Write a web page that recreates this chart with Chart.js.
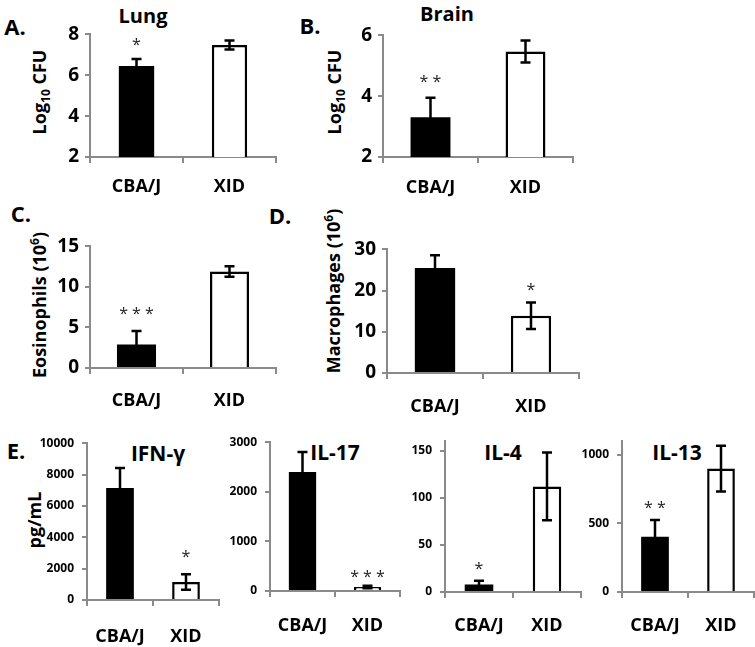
<!DOCTYPE html>
<html>
<head>
<meta charset="utf-8">
<script src="https://cdn.jsdelivr.net/npm/chart.js@4.4.1/dist/chart.umd.min.js"></script>
<style>
  body { margin: 0; background: #fff; width: 755px; height: 647px; position: relative; overflow: hidden;
         font-family: "Open Sans", sans-serif; }
  .box { position: absolute; }
  .lbl { position: absolute; white-space: nowrap; font-weight: bold; color: #000; line-height: 1;
         transform: translate(-50%, -50%); }
  .yt { position: absolute; white-space: nowrap; font-weight: bold; color: #000; line-height: 1;
        font-size: 18px; transform: translate(-50%, -50%) rotate(-90deg); }
  .yt sub, .yt sup { font-size: 12px; }
</style>
</head>
<body>

<div class="lbl" style="left:15px;top:26px;font-size:22px">A.</div>
<div class="lbl" style="left:143px;top:16px;font-size:20px">Lung</div>
<div class="lbl" style="left:310px;top:25px;font-size:22px">B.</div>
<div class="lbl" style="left:447px;top:14px;font-size:20px">Brain</div>
<div class="lbl" style="left:21px;top:213px;font-size:22px">C.</div>
<div class="lbl" style="left:280px;top:215px;font-size:22px">D.</div>
<div class="lbl" style="left:16px;top:450px;font-size:22px">E.</div>
<div class="lbl" style="left:158px;top:453px;font-size:21px">IFN-γ</div>
<div class="lbl" style="left:335px;top:452px;font-size:21px">IL-17</div>
<div class="lbl" style="left:503px;top:452px;font-size:21px">IL-4</div>
<div class="lbl" style="left:677px;top:452px;font-size:21px">IL-13</div>

<div class="yt" style="left:41px;top:92px">Log<sub>10</sub> CFU</div>
<div class="yt" style="left:336px;top:92px">Log<sub>10</sub> CFU</div>
<div class="yt" style="left:38px;top:305px">Eosinophils (10<sup>6</sup>)</div>
<div class="yt" style="left:332px;top:291px">Macrophages (10<sup>6</sup>)</div>
<div class="yt" style="left:34px;top:520px">pg/mL</div>

<div class="box" id="boxA"><canvas id="cA"></canvas></div>
<div class="box" id="boxB"><canvas id="cB"></canvas></div>
<div class="box" id="boxC"><canvas id="cC"></canvas></div>
<div class="box" id="boxD"><canvas id="cD"></canvas></div>
<div class="box" id="boxE1"><canvas id="cE1"></canvas></div>
<div class="box" id="boxE2"><canvas id="cE2"></canvas></div>
<div class="box" id="boxE3"><canvas id="cE3"></canvas></div>
<div class="box" id="boxE4"><canvas id="cE4"></canvas></div>

<script>
// groups
const categories = ["CBA/J", "XID"];

// means and SEM
const lungCFU = [6.45, 7.48];
const lungErr = [0.35, 0.22];
const lungSig = ["*", ""];

const brainCFU = [3.31, 5.47];
const brainErr = [0.64, 0.36];
const brainSig = ["**", ""];

const eosinophils = [2.9, 11.9];
const eosinophilsErr = [1.65, 0.65];
const eosinophilsSig = ["***", ""];

const macrophages = [25.5, 13.9];
const macrophagesErr = [3.1, 3.2];
const macrophagesSig = ["", "*"];

const ifng = [7150, 1150];
const ifngErr = [1270, 500];
const ifngSig = ["", "*"];

const il17 = [2400, 80];
const il17Err = [400, 25];
const il17Sig = ["", "***"];

const il4 = [8, 112];
const il4Err = [4, 36];
const il4Sig = ["*", ""];

const il13 = [403, 900];
const il13Err = [122, 166];
const il13Sig = ["**", ""];

// y axis ranges [min, max, step]
const lungAxis = [2, 8, 2];
const brainAxis = [2, 6, 2];
const eosAxis = [0, 15, 5];
const macAxis = [0, 30, 10];
const ifngAxis = [0, 10000, 2000];
const il17Axis = [0, 3000, 1000];
const il4Axis = [0, 160, 50];
const il13Axis = [0, 1100, 500];

const AXIS = "#8a8a8a";
const FONT = '"Open Sans", sans-serif';

const errorBars = {
  id: "errorBars",
  afterDatasetsDraw(chart, args, opts) {
    const ctx = chart.ctx;
    const ys = chart.scales.y;
    const meta = chart.getDatasetMeta(0);
    ctx.save();
    meta.data.forEach((bar, i) => {
      const v = opts.values[i], e = opts.errors[i];
      const top = ys.getPixelForValue(v + e);
      const bot = ys.getPixelForValue(v - e);
      ctx.strokeStyle = "#000";
      ctx.lineWidth = 2.5;
      ctx.beginPath();
      ctx.moveTo(bar.x, top); ctx.lineTo(bar.x, bot);
      ctx.moveTo(bar.x - 5, top); ctx.lineTo(bar.x + 5, top);
      ctx.moveTo(bar.x - 5, bot); ctx.lineTo(bar.x + 5, bot);
      ctx.stroke();
      if (opts.sig[i]) {
        ctx.fillStyle = "#222";
        ctx.font = "16px " + FONT;
        ctx.textAlign = "center";
        ctx.textBaseline = "middle";
        ctx.fillText(opts.sig[i].split("").join(" "), bar.x, top - opts.sigGap);
      }
    });
    ctx.restore();
  }
};

function panel(p) {
  const yW = 70, xH = 50, padTop = 14, padRight = 10;
  const box = document.getElementById("box" + p.id);
  box.style.left = (p.x0 - yW) + "px";
  box.style.top = (p.yTop - padTop) + "px";
  box.style.width = (p.x1 - p.x0 + yW + padRight) + "px";
  box.style.height = (p.yBottom - p.yTop + padTop + xH) + "px";
  const [min, max, step] = p.axis;
  return new Chart(document.getElementById("c" + p.id), {
    type: "bar",
    data: {
      labels: categories,
      datasets: [{
        data: p.values,
        backgroundColor: ["#000", "#fff"],
        borderColor: "#000",
        borderWidth: [0, 2.5],
        barPercentage: p.barFrac || 0.42,
        categoryPercentage: 1
      }]
    },
    options: {
      responsive: true,
      maintainAspectRatio: false,
      animation: false,
      layout: { padding: { top: padTop, right: padRight, left: 0, bottom: 0 } },
      plugins: {
        legend: { display: false },
        tooltip: { enabled: false },
        errorBars: { values: p.values, errors: p.errors, sig: p.sig, sigGap: p.sigGap || 12 }
      },
      scales: {
        x: {
          afterFit: s => { s.height = xH; },
          grid: { drawOnChartArea: false, drawTicks: true, tickLength: 6, color: AXIS, lineWidth: 2 },
          border: { color: AXIS, width: 2 },
          ticks: { color: "#000", padding: p.catPad, font: { family: FONT, size: 18, weight: "bold" } }
        },
        y: {
          min: min, max: max,
          afterFit: s => { s.width = yW; },
          afterBuildTicks: s => {
            const t = [];
            for (let v = min; v <= max + 1e-9; v += step) t.push({ value: v });
            s.ticks = t;
          },
          grid: { drawOnChartArea: false, drawTicks: true, tickLength: 5, color: AXIS, lineWidth: 2 },
          border: { color: AXIS, width: 2 },
          ticks: { color: "#000", padding: p.tickPad || 6, callback: v => String(v),
                   font: { family: FONT, size: p.tickSize, weight: "bold" } }
        }
      }
    },
    plugins: [errorBars]
  });
}

panel({ id: "A", x0: 90, x1: 276, yTop: 31, yBottom: 157, axis: lungAxis, values: lungCFU, errors: lungErr,
        sig: lungSig, tickSize: 19, catPad: 13, barFrac: 0.38, sigGap: 13 });
panel({ id: "B", x0: 383, x1: 573, yTop: 32, yBottom: 157, axis: brainAxis, values: brainCFU, errors: brainErr,
        sig: brainSig, tickSize: 19, catPad: 14, sigGap: 15 });
panel({ id: "C", x0: 90, x1: 276, yTop: 243, yBottom: 368, axis: eosAxis, values: eosinophils, errors: eosinophilsErr,
        sig: eosinophilsSig, tickSize: 19, catPad: 16, sigGap: 17 });
panel({ id: "D", x0: 387, x1: 579, yTop: 246, yBottom: 373, axis: macAxis, values: macrophages, errors: macrophagesErr,
        sig: macrophagesSig, tickSize: 19, catPad: 17, sigGap: 12 });
panel({ id: "E1", x0: 87, x1: 219, yTop: 442, yBottom: 600, axis: ifngAxis, values: ifng, errors: ifngErr,
        sig: ifngSig, tickSize: 12, catPad: 20, tickPad: 8, sigGap: 17 });
panel({ id: "E2", x0: 270, x1: 400, yTop: 441, yBottom: 591, axis: il17Axis, values: il17, errors: il17Err,
        sig: il17Sig, tickSize: 12, catPad: 18, tickPad: 8, sigGap: 8 });
panel({ id: "E3", x0: 445, x1: 581, yTop: 440, yBottom: 592, axis: il4Axis, values: il4, errors: il4Err,
        sig: il4Sig, tickSize: 12, catPad: 17, tickPad: 8, sigGap: 11 });
panel({ id: "E4", x0: 622, x1: 754, yTop: 440, yBottom: 592, axis: il13Axis, values: il13, errors: il13Err,
        sig: il13Sig, tickSize: 12, catPad: 17, tickPad: 8, sigGap: 12 });
</script>
</body>
</html>
